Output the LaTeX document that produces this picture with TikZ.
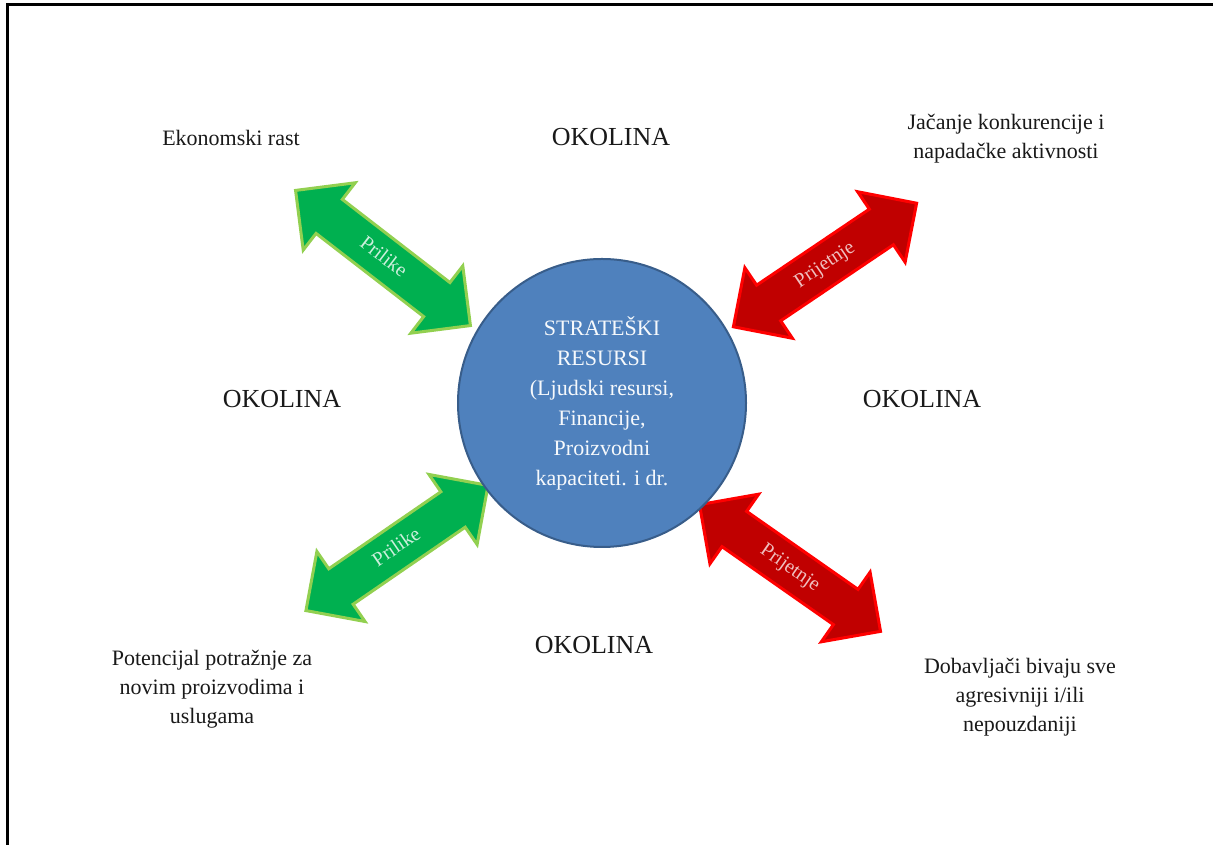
\documentclass[tikz,border=0pt]{standalone}
\usepackage{fontspec}
\setmainfont{Liberation Serif}
\usepackage{tikz}
\usepackage{xcolor}
\usetikzlibrary{shapes.arrows}

\definecolor{resblue}{HTML}{4F81BD}
\definecolor{resborder}{HTML}{385D8A}
\definecolor{oppgreen}{HTML}{00B050}
\definecolor{oppborder}{HTML}{92D050}
\definecolor{thrred}{HTML}{C00000}
\definecolor{thrborder}{HTML}{FF0000}

\begin{document}
\begin{tikzpicture}[x=1pt,y=1pt,node distance=320pt]
        \tikzstyle{every node}=[font=\fontsize{22}{29}\selectfont, text=black!90]
        \tikzstyle{okolina}=[font=\fontsize{26}{30}\selectfont]
        \tikzstyle{factor}=[align=center]
        \tikzstyle{pair}=[double arrow, double arrow head extend=21pt, minimum height=221pt,
            inner xsep=0pt, inner ysep=11pt, text height=14pt, text depth=4pt,
            line width=3pt, font=\fontsize{20}{20}\selectfont]
        \tikzstyle{prilike}=[pair, fill=oppgreen, draw=oppborder, text=white!80!oppgreen]
        \tikzstyle{prijetnje}=[pair, fill=thrred, draw=thrborder, text=white!75!thrred]

        % Frame
        \useasboundingbox (0,0) rectangle (1213,845);
        \draw[line width=3pt] (7,0) -- (7,840) -- (1213,840);

        % Arrows
        \node (oppTop) [prilike, rotate=-37.7] at (383,587) {Prilike};
        \node (oppBottom) [prilike, rotate=34.5] at (397,297) {Prilike};
        \node (thrTop) [prijetnje, rotate=34] at (825,580) {Prijetnje};
        \node (thrBottom) [prijetnje, rotate=-35] at (790,277) {Prijetnje};

        % Nodes
        \node (res) [circle, fill=resblue, draw=resborder, line width=2pt, minimum size=288pt,
            align=center, text=white!95!resblue, font=\fontsize{22}{30}\selectfont] at (602,442)
            {STRATEŠKI\\RESURSI\\(Ljudski resursi,\\Financije,\\Proizvodni\\kapaciteti. i dr.};
        \node (okTop) [okolina, above of=res, node distance=266pt, xshift=9pt] {OKOLINA};
        \node (okLeft) [okolina, left of=res, yshift=4pt] {OKOLINA};
        \node (okRight) [okolina, right of=res, yshift=4pt] {OKOLINA};
        \node (okBottom) [okolina, below of=res, node distance=242pt, xshift=-8pt] {OKOLINA};
        \node (rast) [factor] at (231,707) {Ekonomski rast};
        \node (konkurencija) [factor] at (1006,706) {Jačanje konkurencije i\\napadačke aktivnosti};
        \node (potraznja) [factor] at (212,156) {Potencijal potražnje za\\novim proizvodima i\\uslugama};
        \node (dobavljaci) [factor] at (1020,148) {Dobavljači bivaju sve\\agresivniji i/ili\\nepouzdaniji};

    \end{tikzpicture}
\end{document}
